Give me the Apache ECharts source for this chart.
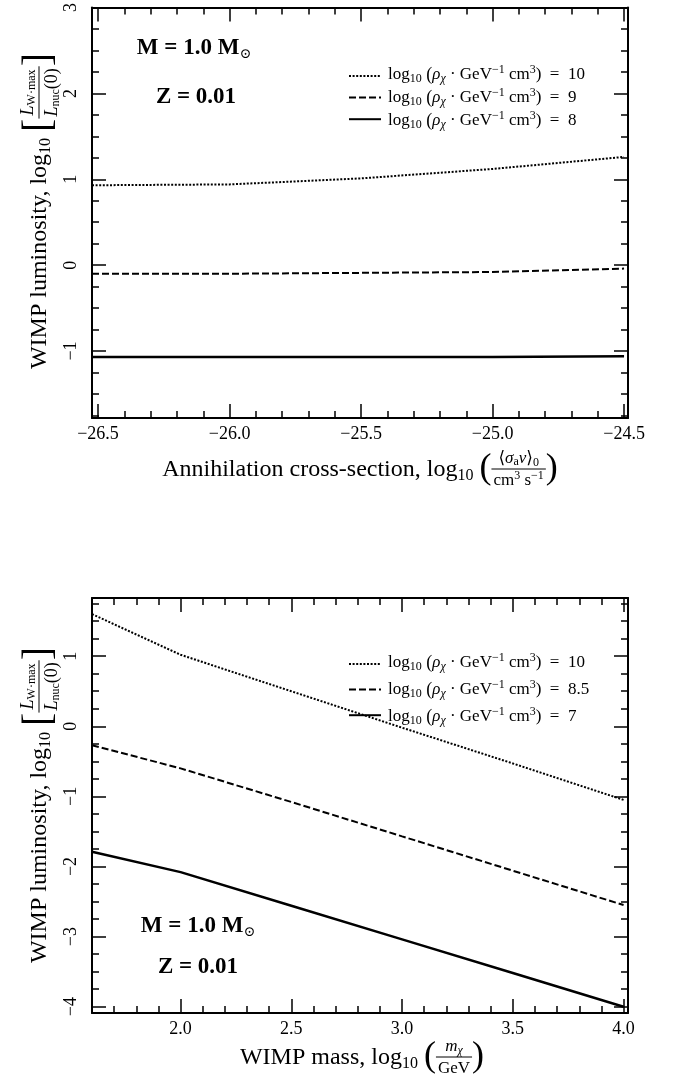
<!DOCTYPE html>
<html>
<head>
<meta charset="utf-8">
<script src="https://cdn.jsdelivr.net/npm/echarts@6/dist/echarts.min.js"></script>
<style>
  html, body { margin: 0; padding: 0; background: #fff; }
  #chart { width: 681px; height: 1081px; }
</style>
</head>
<body>
<div id="chart"></div>
<script>
// top panel: luminosity vs annihilation cross-section
const crossSection = [-26.523, -26.0, -25.5, -25.0, -24.5];
const lumRho10 = [0.93, 0.94, 1.01, 1.12, 1.26];
const lumRho9 = [-0.10, -0.10, -0.09, -0.08, -0.04];
const lumRho8 = [-1.07, -1.07, -1.07, -1.07, -1.06];

// bottom panel: luminosity vs WIMP mass
const wimpMass = [1.6, 2.0, 2.5, 3.0, 3.5, 4.0];
const massRho10 = [1.6, 1.02, 0.50, -0.02, -0.53, -1.05];
const massRho85 = [-0.27, -0.60, -1.08, -1.57, -2.06, -2.55];
const massRho7 = [-1.79, -2.08, -2.56, -3.04, -3.52, -4.0];

// ticks
const topXMajor = [-26.5, -26.0, -25.5, -25.0, -24.5];
const topXMinor = [-26.4, -26.3, -26.2, -26.1, -25.9, -25.8, -25.7, -25.6,
  -25.4, -25.3, -25.2, -25.1, -24.9, -24.8, -24.7, -24.6];
const topYMajor = [-1, 0, 1, 2, 3];
const topYMinor = [-1.75, -1.5, -1.25, -0.75, -0.5, -0.25, 0.25, 0.5, 0.75,
  1.25, 1.5, 1.75, 2.25, 2.5, 2.75];
const botXMajor = [2.0, 2.5, 3.0, 3.5, 4.0];
const botXMinor = [1.7, 1.8, 1.9, 2.1, 2.2, 2.3, 2.4, 2.6, 2.7, 2.8, 2.9,
  3.1, 3.2, 3.3, 3.4, 3.6, 3.7, 3.8, 3.9];
const botYMajor = [-4, -3, -2, -1, 0, 1];
const botYMinor = [-3.75, -3.5, -3.25, -2.75, -2.5, -2.25, -1.75, -1.5, -1.25,
  -0.75, -0.5, -0.25, 0.25, 0.5, 0.75, 1.25, 1.5, 1.75];

const SERIF = '"Liberation Serif", "DejaVu Serif", serif';
const zip = (xs, ys) => xs.map((x, i) => [x, ys[i]]);
const minus = (s) => s.replace('-', '\u2212');

// --- small math-text layout (sub/superscripts, fractions) ---
const measureCtx = document.createElement('canvas').getContext('2d');
function textWidth(t, size, italic, bold) {
  measureCtx.font = (italic ? 'italic ' : '') + (bold ? 'bold ' : '') + size + 'px ' + SERIF;
  return measureCtx.measureText(t).width;
}
function layoutRow(pieces) {
  let x = 0;
  const items = [];
  pieces.forEach((p) => {
    if (p.frac) {
      const num = layoutRow(p.frac[0]);
      const den = layoutRow(p.frac[1]);
      const fw = Math.max(num.width, den.width) + 4;
      num.items.forEach((it) => items.push({ ...it, x: it.x + x + (fw - num.width) / 2, dy: it.dy + p.numDy }));
      den.items.forEach((it) => items.push({ ...it, x: it.x + x + (fw - den.width) / 2, dy: it.dy + p.denDy }));
      items.push({ line: true, x1: x, x2: x + fw, dy: p.barDy });
      x += fw;
    } else {
      items.push({ t: p.t, s: p.s, i: p.i, b: p.b, x, dy: p.dy || 0 });
      x += textWidth(p.t, p.s, p.i, p.b);
    }
  });
  return { items, width: x };
}
function mathLabel(pieces, cx, cy, rotation, alignLeft) {
  const row = layoutRow(pieces);
  const off = alignLeft ? 0 : -row.width / 2;
  return {
    type: 'group', x: cx, y: cy, rotation: rotation || 0, z: 100,
    children: row.items.map((it) => it.line ? {
      type: 'line',
      shape: { x1: it.x1 + off, y1: it.dy, x2: it.x2 + off, y2: it.dy },
      style: { stroke: '#000', lineWidth: 1 }
    } : {
      type: 'text', x: it.x + off, y: it.dy,
      style: {
        text: it.t, fontSize: it.s, fontFamily: SERIF,
        fontStyle: it.i ? 'italic' : 'normal', fontWeight: it.b ? 'bold' : 'normal',
        fill: '#000', align: 'left', verticalAlign: 'middle'
      }
    })
  };
}

const T = 24, TS = 16;
const yTitle = [
  { t: 'WIMP luminosity, log', s: T }, { t: '10', s: TS, dy: 6 }, { t: ' ', s: T },
  { t: '[', s: 40, dy: -1 },
  { frac: [[{ t: 'L', s: 18, i: 1 }, { t: 'W\u00b7max', s: 12, dy: 4 }],
           [{ t: 'L', s: 18, i: 1 }, { t: 'nuc', s: 12, dy: 4 }, { t: '(0)', s: 18 }]],
    numDy: -12, denDy: 12, barDy: -1 },
  { t: ']', s: 40, dy: -1 }
];
const xTitleTop = [
  { t: 'Annihilation cross-section, log', s: T }, { t: '10', s: TS, dy: 6 }, { t: ' ', s: T },
  { t: '(', s: 36, dy: -1 },
  { frac: [[{ t: '\u27e8', s: 17 }, { t: '\u03c3', s: 17, i: 1 }, { t: 'a', s: 12, dy: 3 },
            { t: 'v', s: 17, i: 1 }, { t: '\u27e9', s: 17 }, { t: '0', s: 12, dy: 4 }],
           [{ t: 'cm', s: 17 }, { t: '3', s: 12, dy: -5 }, { t: ' s', s: 17 }, { t: '\u22121', s: 12, dy: -5 }]],
    numDy: -11, denDy: 11, barDy: -1 },
  { t: ')', s: 36, dy: -1 }
];
const xTitleBot = [
  { t: 'WIMP mass, log', s: T }, { t: '10', s: TS, dy: 6 }, { t: ' ', s: T },
  { t: '(', s: 36, dy: -1 },
  { frac: [[{ t: 'm', s: 17, i: 1 }, { t: '\u03c7', s: 12, i: 1, dy: 4 }], [{ t: 'GeV', s: 17 }]],
    numDy: -11, denDy: 11, barDy: -1 },
  { t: ')', s: 36, dy: -1 }
];
const legendText = (val) => [
  { t: 'log', s: 17 }, { t: '10', s: 12, dy: 4 }, { t: ' (', s: 18 },
  { t: '\u03c1', s: 17, i: 1 }, { t: '\u03c7', s: 12, i: 1, dy: 4 },
  { t: ' \u00b7 GeV', s: 17 }, { t: '\u22121', s: 12, dy: -5 },
  { t: ' cm', s: 17 }, { t: '3', s: 12, dy: -5 }, { t: ')  =  ' + val, s: 17 }
];
const massLabel = [{ t: 'M = 1.0 M', s: 23, b: 1 }, { t: '\u2299', s: 14, dy: 6 }];
const zLabel = [{ t: 'Z = 0.01', s: 23, b: 1 }];

// --- axes: major/minor ticks on all four sides ---
const tick = (vals, len) => ({ show: true, inside: true, length: len, customValues: vals, lineStyle: { color: '#000', width: 1.5 } });
const frame = { onZero: false, lineStyle: { color: '#000', width: 2 } };
const noLine = { show: false, onZero: false };
function xAxes(grid, min, max, major, minor) {
  const base = { type: 'value', gridIndex: grid, min, max, splitLine: { show: false } };
  return [
    { ...base, position: 'bottom', axisLine: frame, axisTick: tick(major, 14),
      axisLabel: { customValues: major, margin: 7, fontSize: 18, fontFamily: SERIF, color: '#000',
        formatter: (v) => minus(v.toFixed(1)) } },
    { ...base, position: 'bottom', axisLine: noLine, axisTick: tick(minor, 7), axisLabel: { show: false } },
    { ...base, position: 'top', axisLine: frame, axisTick: tick(major, 14), axisLabel: { show: false } },
    { ...base, position: 'top', axisLine: noLine, axisTick: tick(minor, 7), axisLabel: { show: false } }
  ];
}
function yAxes(grid, min, max, major, minor) {
  const base = { type: 'value', gridIndex: grid, min, max, splitLine: { show: false } };
  return [
    { ...base, position: 'left', axisLine: frame, axisTick: tick(major, 14),
      axisLabel: { customValues: major, margin: 12, rotate: 90, fontSize: 18, fontFamily: SERIF, color: '#000',
        formatter: (v) => minus(String(v)) } },
    { ...base, position: 'left', axisLine: noLine, axisTick: tick(minor, 7), axisLabel: { show: false } },
    { ...base, position: 'right', axisLine: frame, axisTick: tick(major, 14), axisLabel: { show: false } },
    { ...base, position: 'right', axisLine: noLine, axisTick: tick(minor, 7), axisLabel: { show: false } }
  ];
}

const DOTTED = [2, 1.6], DASHED = [7, 3];
const line = (name, data, xi, yi, type, width) => ({
  name, type: 'line', data, xAxisIndex: xi, yAxisIndex: yi, symbol: 'none',
  lineStyle: { color: '#000', width, type }, itemStyle: { color: '#000' }
});

const legendBase = {
  orient: 'vertical', itemWidth: 32, itemHeight: 14, formatter: () => '',
  textStyle: { fontSize: 8 }, itemStyle: { opacity: 0 }, selectedMode: false
};

const chart = echarts.init(document.getElementById('chart'), null, { renderer: 'canvas' });
chart.setOption({
  animation: false,
  backgroundColor: '#fff',
  grid: [
    { left: 92, top: 5, width: 536, height: 413 },
    { left: 92, top: 598, width: 536, height: 415 }
  ],
  xAxis: [
    ...xAxes(0, -26.523, -24.485, topXMajor, topXMinor),
    ...xAxes(1, 1.6, 4.02, botXMajor, botXMinor)
  ],
  yAxis: [
    ...yAxes(0, -1.78, 3, topYMajor, topYMinor),
    ...yAxes(1, -4.09, 1.83, botYMajor, botYMinor)
  ],
  legend: [
    { ...legendBase, data: ['top10', 'top9', 'top8'], left: 343, top: 64, itemGap: 9 },
    { ...legendBase, data: ['bot10', 'bot85', 'bot7'], left: 343, top: 652, itemGap: 13 }
  ],
  series: [
    line('top10', zip(crossSection, lumRho10), 0, 0, DOTTED, 2),
    line('top9', zip(crossSection, lumRho9), 0, 0, DASHED, 2),
    line('top8', zip(crossSection, lumRho8), 0, 0, 'solid', 2.5),
    line('bot10', zip(wimpMass, massRho10), 4, 4, DOTTED, 2),
    line('bot85', zip(wimpMass, massRho85), 4, 4, DASHED, 2),
    line('bot7', zip(wimpMass, massRho7), 4, 4, 'solid', 2.5)
  ],
  graphic: [
    mathLabel(yTitle, 40, 211, Math.PI / 2),
    mathLabel(yTitle, 40, 805, Math.PI / 2),
    mathLabel(xTitleTop, 360, 470),
    mathLabel(xTitleBot, 362, 1058),
    mathLabel(legendText('10'), 388, 75, 0, true),
    mathLabel(legendText('9'), 388, 98, 0, true),
    mathLabel(legendText('8'), 388, 121, 0, true),
    mathLabel(legendText('10'), 388, 663, 0, true),
    mathLabel(legendText('8.5'), 388, 690, 0, true),
    mathLabel(legendText('7'), 388, 717, 0, true),
    mathLabel(massLabel, 194, 48),
    mathLabel(zLabel, 196, 97),
    mathLabel(massLabel, 198, 926),
    mathLabel(zLabel, 198, 967)
  ]
});
</script>
</body>
</html>
